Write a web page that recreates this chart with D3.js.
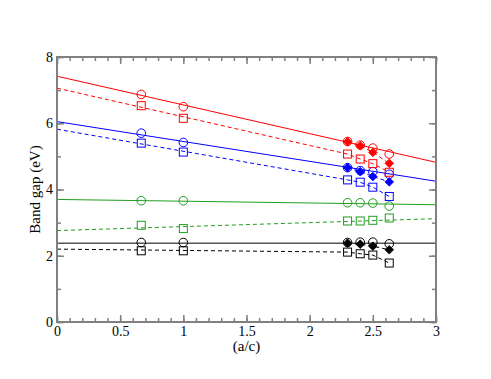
<!DOCTYPE html>
<html><head><meta charset="utf-8">
<script src="https://cdn.jsdelivr.net/npm/d3@7/dist/d3.min.js"></script>
<style>body{margin:0;background:#fff}svg{display:block}
svg text{font-family:"Times New Roman",Times,Tinos,"Liberation Serif","Nimbus Roman","Nimbus Roman No9 L",FreeSerif,"Noto Serif","DejaVu Serif",serif !important}</style>
</head><body>
<svg id="c" width="491" height="379"></svg>
<script>
const xTicks = [0, 0.5, 1, 1.5, 2, 2.5, 3];
const yTicks = [0, 2, 4, 6, 8];
const xLeft = [0.667, 1.0];
const xRight = [2.3, 2.4, 2.5, 2.63];
const xAll = [0.667, 1.0, 2.3, 2.4, 2.5, 2.63];

// circles (all x)
const redCircles   = [6.87, 6.50, 5.45, 5.34, 5.25, 5.07];
const blueCircles  = [5.70, 5.42, 4.66, 4.57, 4.54, 4.46];
const greenCircles = [3.66, 3.66, 3.60, 3.60, 3.59, 3.50];
const blackCircles = [2.40, 2.40, 2.40, 2.41, 2.41, 2.36];
// squares (all x)
const redSquares   = [6.53, 6.15, 5.07, 4.92, 4.78, 4.52];
const blueSquares  = [5.40, 5.13, 4.29, 4.22, 4.07, 3.79];
const greenSquares = [2.92, 2.82, 3.05, 3.05, 3.07, 3.14];
const blackSquares = [2.15, 2.15, 2.11, 2.06, 2.02, 1.78];
// filled diamonds (right x)
const redDiamonds   = [5.44, 5.32, 5.12, 4.79];
const blueDiamonds  = [4.66, 4.54, 4.39, 4.23];
const blackDiamonds = [2.38, 2.35, 2.29, 2.18];
// solid fit lines: value at x=0 and x=3
const redSolid   = [7.42, 4.82];
const blueSolid  = [6.05, 4.25];
const greenSolid = [3.70, 3.54];
const blackSolid = [2.38, 2.38];
// dashed lines: value at x=0 (then through right squares)
const redDash0 = 7.06, blueDash0 = 5.82, blackDash0 = 2.20;
const greenDashed = [2.76, 3.12];

const RED = "#ff0000", BLUE = "#0000ff", GREEN = "#1f9e1f", BLACK = "#000000";

const svg = d3.select("#c");
const x = d3.scaleLinear().domain([0, 3]).range([57, 436]);
const y = d3.scaleLinear().domain([0, 8]).range([322, 57]);
const FRAME = "#808080";

const g = svg.append("g");
const line = d3.line().x(d => x(d[0])).y(d => y(d[1]));

function path(pts, color, dashed) {
  g.append("path").attr("d", line(pts)).attr("fill", "none")
    .attr("stroke", color).attr("stroke-width", 1)
    .attr("stroke-dasharray", dashed ? "4,3" : null);
}
[[redSolid, RED], [blueSolid, BLUE], [greenSolid, GREEN], [blackSolid, BLACK]].forEach(([v, c]) =>
  path([[0, v[0]], [3, v[1]]], c, false));
path([[0, greenDashed[0]], [3, greenDashed[1]]], GREEN, true);
[[redDash0, redSquares, RED], [blueDash0, blueSquares, BLUE], [blackDash0, blackSquares, BLACK]].forEach(([v0, sq, c]) => {
  const pts = [[0, v0]].concat(xRight.map((xx, i) => [xx, sq[i + 2]]));
  path(pts, c, true);
});
[[redDiamonds, RED], [blueDiamonds, BLUE], [blackDiamonds, BLACK]].forEach(([d, c]) =>
  path(xRight.map((xx, i) => [xx, d[i]]), c, true));

function circles(vals, c) {
  g.selectAll(null).data(vals).enter().append("circle")
    .attr("cx", (d, i) => x(xAll[i])).attr("cy", d => y(d)).attr("r", 4.3)
    .attr("fill", "none").attr("stroke", c).attr("stroke-width", 1);
}
function squares(vals, c) {
  g.selectAll(null).data(vals).enter().append("rect")
    .attr("x", (d, i) => x(xAll[i]) - 4).attr("y", d => y(d) - 4)
    .attr("width", 8).attr("height", 8)
    .attr("fill", "none").attr("stroke", c).attr("stroke-width", 1);
}
function diamonds(vals, c) {
  g.selectAll(null).data(vals).enter().append("path")
    .attr("d", (d, i) => { const cx = x(xRight[i]), cy = y(d), s = 4.3;
      return `M${cx},${cy - s}L${cx + s},${cy}L${cx},${cy + s}L${cx - s},${cy}Z`; })
    .attr("fill", c).attr("stroke", c).attr("stroke-width", 0.8);
}
[[redCircles, RED], [blueCircles, BLUE], [greenCircles, GREEN], [blackCircles, BLACK]].forEach(([v, c]) => circles(v, c));
[[redSquares, RED], [blueSquares, BLUE], [greenSquares, GREEN], [blackSquares, BLACK]].forEach(([v, c]) => squares(v, c));
[[redDiamonds, RED], [blueDiamonds, BLUE], [blackDiamonds, BLACK]].forEach(([v, c]) => diamonds(v, c));

const font = "Times New Roman";
function styleAxis(sel) {
  sel.attr("font-family", font);
  sel.select(".domain").remove();
  sel.selectAll("line").attr("stroke", FRAME).attr("stroke-width", 1.5);
  sel.selectAll("text").attr("font-size", 14).attr("fill", "#000");
}
const xMinor = d3.range(0, 3.0001, 0.1);
const yMinor = d3.range(0, 8.0001, 1);
svg.append("g").attr("transform", "translate(0,322)")
  .call(d3.axisBottom(x).tickValues(xMinor).tickSize(-4).tickFormat(""))
  .call(styleAxis);
svg.append("g").attr("transform", "translate(0,322)")
  .call(d3.axisBottom(x).tickValues(xTicks).tickSize(-7).tickPadding(4).tickFormat(d3.format("")))
  .call(styleAxis);
svg.append("g").attr("transform", "translate(0,57)")
  .call(d3.axisTop(x).tickValues(xMinor).tickSize(-4).tickFormat("")).call(styleAxis);
svg.append("g").attr("transform", "translate(0,57)")
  .call(d3.axisTop(x).tickValues(xTicks).tickSize(-7).tickFormat("")).call(styleAxis);
svg.append("g").attr("transform", "translate(57,0)")
  .call(d3.axisLeft(y).tickValues(yMinor).tickSize(-4).tickFormat("")).call(styleAxis);
svg.append("g").attr("transform", "translate(57,0)")
  .call(d3.axisLeft(y).tickValues(yTicks).tickSize(-7).tickPadding(4).tickFormat(d3.format("d")))
  .call(styleAxis);
svg.append("g").attr("transform", "translate(436,0)")
  .call(d3.axisRight(y).tickValues(yMinor).tickSize(-4).tickFormat("")).call(styleAxis);
svg.append("g").attr("transform", "translate(436,0)")
  .call(d3.axisRight(y).tickValues(yTicks).tickSize(-7).tickFormat("")).call(styleAxis);

svg.append("rect").attr("x", 57).attr("y", 57).attr("width", 379).attr("height", 265)
  .attr("fill", "none").attr("stroke", FRAME).attr("stroke-width", 2);

svg.append("text").attr("x", x(1.5)).attr("y", 351).attr("text-anchor", "middle")
  .attr("font-family", font).attr("font-size", 15).text("(a/c)");
svg.append("text").attr("transform", `translate(40,${y(4)}) rotate(-90)`)
  .attr("text-anchor", "middle").attr("font-family", font).attr("font-size", 15).text("Band gap (eV)");
</script>
</body></html>
